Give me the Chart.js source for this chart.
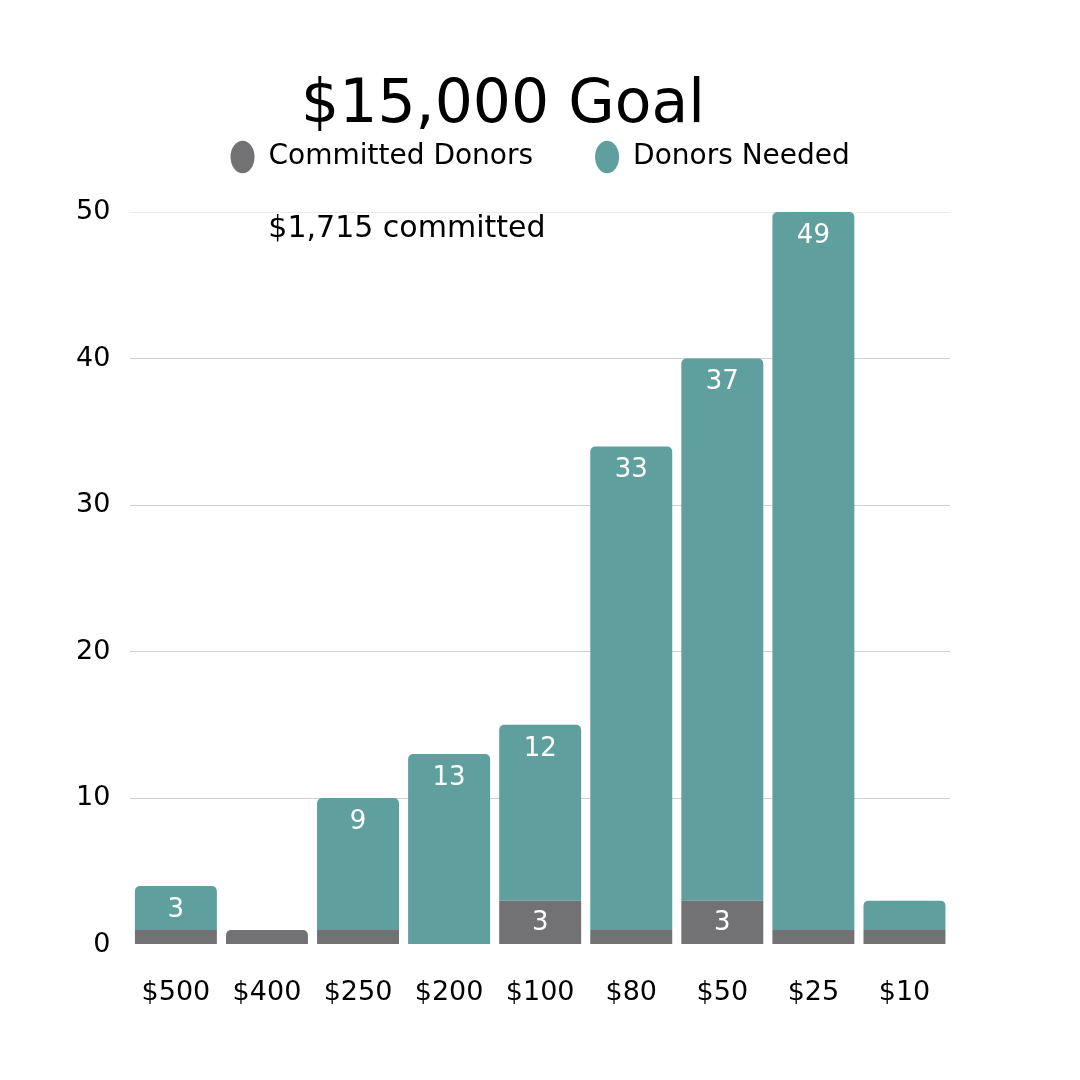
<!DOCTYPE html>
<html>
<head>
<meta charset="utf-8">
<script src="https://cdn.jsdelivr.net/npm/chart.js@4.4.1/dist/chart.umd.min.js"></script>
<style>
  html, body { margin: 0; padding: 0; background: #fff; }
</style>
</head>
<body>
<canvas id="goalChart" width="1080" height="1080"></canvas>
<script>
const amounts = ['$500', '$400', '$250', '$200', '$100', '$80', '$50', '$25', '$10'];
const committedDonors = [1, 1, 1, 0, 3, 1, 3, 1, 1];
const donorsNeeded = [3, 0, 9, 13, 12, 33, 37, 49, 2];
const yTicks = [0, 10, 20, 30, 40, 50];
const chartTitle = '$15,000 Goal';
const committedNote = '$1,715 committed';
const labelMin = 3; // smaller segments get no number

Chart.defaults.font.family = '"DejaVu Sans", sans-serif';
Chart.defaults.color = '#000';

// white numbers on the bars + the "committed" note
const barValueLabels = {
    id: 'barValueLabels',
    afterDatasetsDraw(chart) {
        const ctx = chart.ctx;
        ctx.save();
        ctx.font = '26px "DejaVu Sans"';
        ctx.fillStyle = '#fff';
        ctx.textAlign = 'center';
        ctx.textBaseline = 'middle';
        chart.data.datasets.forEach((dataset, i) => {
            chart.getDatasetMeta(i).data.forEach((bar, j) => {
                const v = dataset.data[j];
                if (v < labelMin) return;
                const y = i === 0 ? (bar.y + bar.base) / 2 + 1 : bar.y + 24;
                ctx.fillText(v, bar.x, y);
            });
        });
        ctx.fillStyle = '#000';
        ctx.font = '30px "DejaVu Sans"';
        ctx.textAlign = 'left';
        ctx.fillText(committedNote, chart.chartArea.left + 138, chart.chartArea.top + 17);
        ctx.restore();
    }
};

let goalChart = new Chart(document.getElementById('goalChart').getContext('2d'), {
    type: 'bar',
    data: {
        labels: amounts,
        datasets: [{
            label: 'Committed Donors',
            data: committedDonors,
            backgroundColor: '#727274',
            borderRadius: 5
        }, {
            label: 'Donors Needed',
            data: donorsNeeded,
            backgroundColor: '#5f9f9e',
            borderRadius: 5
        }]
    },
    options: {
        responsive: false,
        animation: false,
        barPercentage: 0.9,
        categoryPercentage: 1,
        layout: {
            padding: {top: 0, left: 56, right: 130, bottom: 47}
        },
        scales: {
            x: {
                stacked: true,
                grid: {display: false},
                border: {display: false},
                ticks: {font: {size: 27}, padding: 24}
            },
            y: {
                stacked: true,
                min: 0,
                max: 50,
                afterBuildTicks: (axis) => {
                    axis.ticks = yTicks.map(v => ({value: v}));
                },
                grid: {
                    drawTicks: false,
                    color: (c) => c.tick.value === 0 ? 'rgba(0,0,0,0)' : (c.tick.value === 50 ? '#ebebeb' : '#d0d0d0')
                },
                border: {display: false},
                ticks: {font: {size: 27}, padding: 20}
            }
        },
        plugins: {
            title: {
                display: true,
                text: chartTitle,
                font: {size: 60, weight: 'normal'},
                padding: {top: 70, bottom: -61}
            },
            legend: {
                fullSize: false,
                labels: {
                    font: {size: 28},
                    padding: 62,
                    usePointStyle: true,
                    pointStyle: 'circle',
                    pointStyleWidth: 24,
                    boxHeight: 23
                }
            },
            // empty spacer between legend and plot
            subtitle: {
                display: true,
                text: '',
                weight: 500,
                padding: 0,
                font: {size: 10, lineHeight: 3.1}
            },
            tooltip: {enabled: false}
        }
    },
    plugins: [barValueLabels]
});
</script>
</body>
</html>
